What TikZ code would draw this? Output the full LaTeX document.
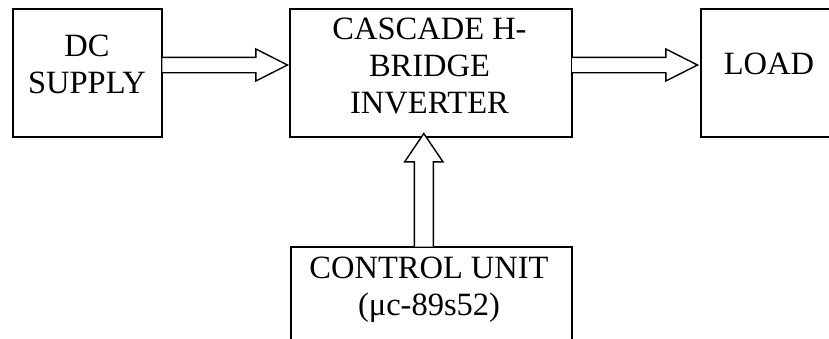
\documentclass[tikz,border=0pt]{standalone}
\usepackage{fontspec}
\setmainfont{Liberation Serif}
\usetikzlibrary{calc}

\tikzset{
  blockbox/.style={draw=black, line width=2pt, inner sep=0pt, outer sep=0pt, rectangle},
  blocktext/.style={inner sep=0pt, outer sep=0pt, anchor=north, align=center,
    font=\fontsize{32.5}{37}\selectfont},
  hollowarrow/.style={draw=black, line width=1.4pt, line join=miter, fill=white}
}

\begin{document}
\begin{tikzpicture}[x=1pt, y=-1pt]
  \useasboundingbox (0,0) rectangle (829,338);
  \clip (0,0) rectangle (829,338);

  % blocks
  \node[blockbox, minimum width=149pt, minimum height=127.5pt] (dc)   at (87.8,72.75)  {};
  \node[blockbox, minimum width=282pt, minimum height=127.5pt] (inv)  at (431,72.75)   {};
  \node[blockbox, minimum width=199pt, minimum height=127.5pt] (load) at (800.5,72.75) {};
  \node[blockbox, minimum width=281pt, minimum height=153.3pt] (ctrl) at (431.2,323.3) {};

  % block labels
  \node[blocktext] (dctxt)   at (87,35)     {DC\\SUPPLY};
  \node[blocktext] (invtxt)  at (429.5,17.5) {CASCADE H-\\BRIDGE\\INVERTER};
  \node[blocktext] (loadtxt) at (769,53)    {LOAD};
  \node[blocktext] (ctrltxt) at (429,256.5) {CONTROL UNIT\\(μc-89s52)};

  % DC supply -> inverter
  \coordinate (s1) at ([yshift=7.75pt]dc.east);
  \path (inv.west |- s1) ++(-2.5,0) coordinate (t1);
  \draw[hollowarrow]
    ($(s1)+(0,-7.7)$) -- ($(t1)+(-31.6,-7.7)$) -- ($(t1)+(-31.6,-16)$) -- (t1)
    -- ($(t1)+(-31.6,16)$) -- ($(t1)+(-31.6,7.7)$) -- ($(s1)+(0,7.7)$);

  % inverter -> load
  \coordinate (s2) at (inv.east |- s1);
  \path (load.west |- s1) ++(-3.5,0) coordinate (t2);
  \draw[hollowarrow]
    ($(s2)+(0,-7.7)$) -- ($(t2)+(-31.6,-7.7)$) -- ($(t2)+(-31.6,-16)$) -- (t2)
    -- ($(t2)+(-31.6,16)$) -- ($(t2)+(-31.6,7.7)$) -- ($(s2)+(0,7.7)$);

  % control unit -> inverter
  \coordinate (s3) at ([xshift=-7.4pt]ctrl.north);
  \path (s3 |- inv.south) ++(0,-3) coordinate (t3);
  \draw[hollowarrow]
    ($(s3)+(-9.5,0)$) -- ($(t3)+(-9.5,28.4)$) -- ($(t3)+(-19.2,28.4)$) -- (t3)
    -- ($(t3)+(19.2,28.4)$) -- ($(t3)+(9.5,28.4)$) -- ($(s3)+(9.5,0)$);
\end{tikzpicture}
\end{document}
